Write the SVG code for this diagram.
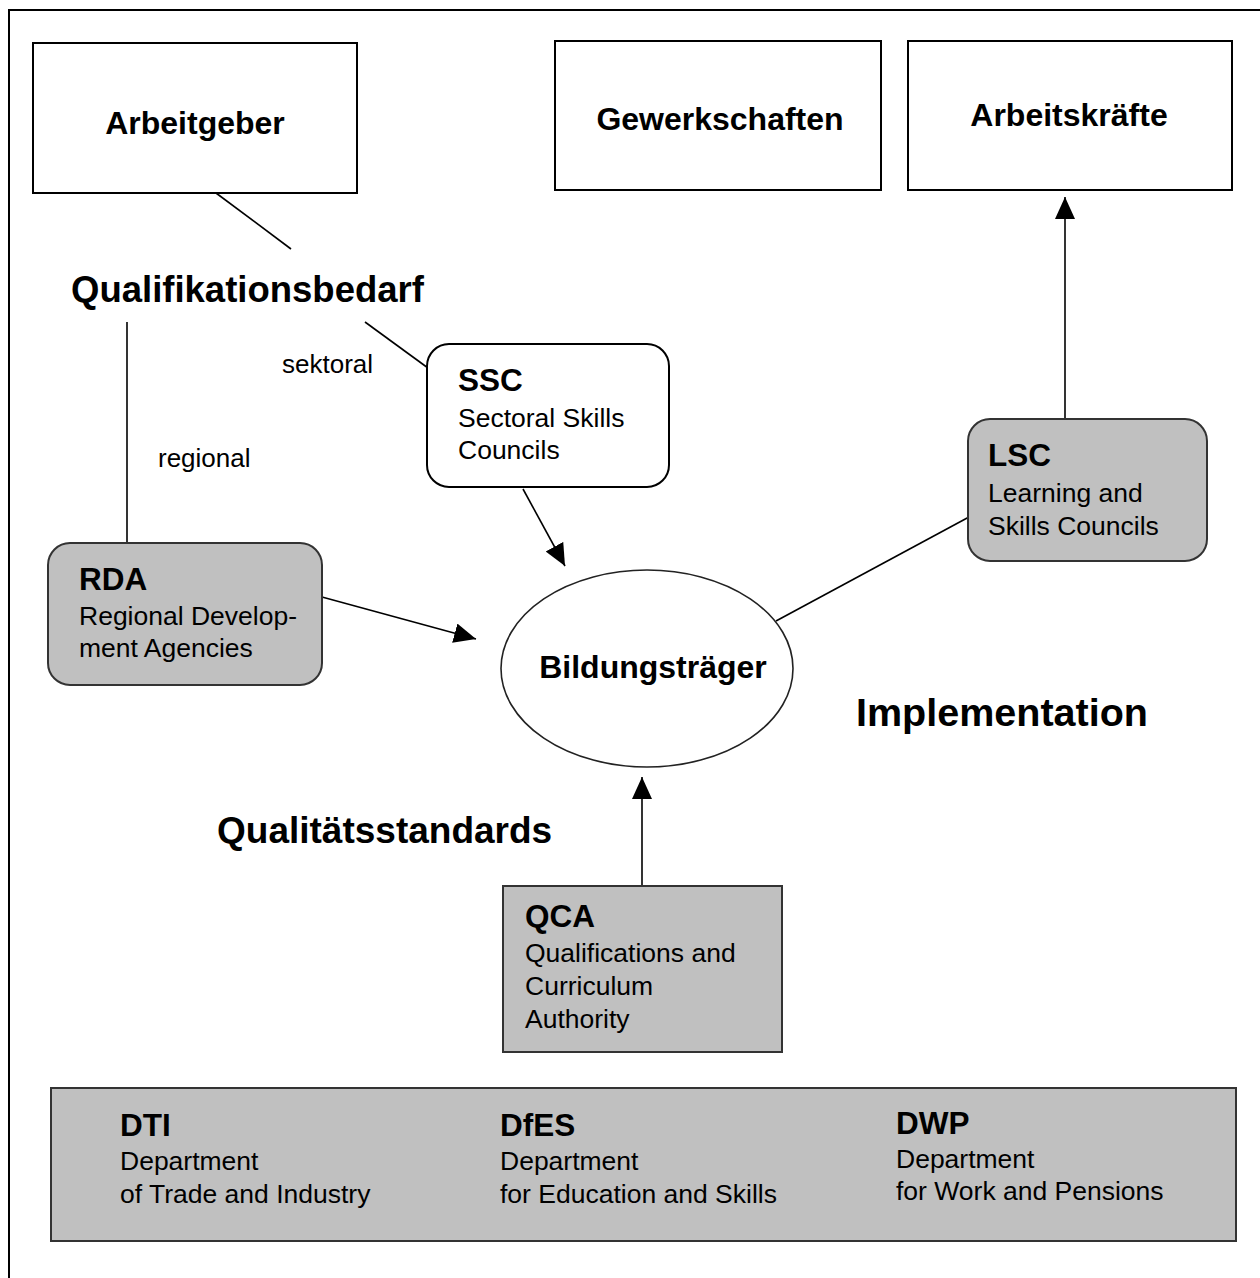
<svg xmlns="http://www.w3.org/2000/svg" width="1260" height="1278" viewBox="0 0 1260 1278">
<defs>
<marker id="arr" markerUnits="userSpaceOnUse" markerWidth="24" markerHeight="22" refX="22" refY="10" orient="auto">
<path d="M0,0 L22,10 L0,20 z" fill="#000"/>
</marker>
<style>
.box{fill:#fff;stroke:#000;stroke-width:2}
.grey{fill:#c0c0c0;stroke:#333;stroke-width:2}
.t{font-family:"Liberation Sans",Arial,sans-serif;fill:#000}
.big{font-size:32px;font-weight:bold;text-anchor:middle}
.hd{font-size:31.5px;font-weight:bold}
.bd{font-size:26.5px}
.lbl{font-size:26px}
.cap{font-weight:bold}
.ln{stroke:#000;stroke-width:1.6;fill:none}
</style>
</defs>
<rect x="9" y="10" width="1300" height="1300" fill="#fff" stroke="#000" stroke-width="2"/>

<g id="connectors">
<line class="ln" x1="216" y1="193" x2="291" y2="249"/>
<line class="ln" x1="127" y1="322" x2="127" y2="544"/>
<line class="ln" x1="365" y1="322" x2="428" y2="368"/>
<line class="ln" x1="523" y1="489" x2="565" y2="566" marker-end="url(#arr)"/>
<line class="ln" x1="322" y1="597" x2="476" y2="639" marker-end="url(#arr)"/>
<line class="ln" x1="776" y1="621" x2="969" y2="517"/>
<line class="ln" x1="1065" y1="419" x2="1065" y2="197" marker-end="url(#arr)"/>
<line class="ln" x1="642" y1="886" x2="642" y2="777" marker-end="url(#arr)"/>
</g>

<g id="arbeitgeber">
<rect class="box" x="33" y="43" width="324" height="150"/>
<text class="t big" x="195" y="134">Arbeitgeber</text>
</g>
<g id="gewerkschaften">
<rect class="box" x="555" y="41" width="326" height="149"/>
<text class="t big" x="720" y="130">Gewerkschaften</text>
</g>
<g id="arbeitskraefte">
<rect class="box" x="908" y="41" width="324" height="149"/>
<text class="t big" x="1069" y="126">Arbeitskräfte</text>
</g>

<g id="qualifikationsbedarf">
<text class="t cap" x="71" y="302" font-size="36.5">Qualifikationsbedarf</text>
</g>
<g id="label-sektoral"><text class="t lbl" x="282" y="373">sektoral</text></g>
<g id="label-regional"><text class="t lbl" x="158" y="467">regional</text></g>

<g id="ssc">
<rect class="box" x="427" y="344" width="242" height="143" rx="22"/>
<text class="t hd" x="458" y="391">SSC</text>
<text class="t bd" x="458" y="427">Sectoral Skills</text>
<text class="t bd" x="458" y="459">Councils</text>
</g>

<g id="lsc">
<rect class="grey" x="968" y="419" width="239" height="142" rx="22"/>
<text class="t hd" x="988" y="466">LSC</text>
<text class="t bd" x="988" y="502">Learning and</text>
<text class="t bd" x="988" y="535">Skills Councils</text>
</g>

<g id="rda">
<rect class="grey" x="48" y="543" width="274" height="142" rx="22"/>
<text class="t hd" x="79" y="590">RDA</text>
<text class="t bd" x="79" y="625">Regional Develop-</text>
<text class="t bd" x="79" y="657">ment Agencies</text>
</g>

<g id="bildungstraeger">
<ellipse cx="647" cy="668.5" rx="146" ry="98.5" fill="#fff" stroke="#222" stroke-width="1.6"/>
<text class="t cap" x="653" y="678" font-size="32" text-anchor="middle">Bildungsträger</text>
</g>

<g id="implementation">
<text class="t cap" x="856" y="726" font-size="39.5">Implementation</text>
</g>
<g id="qualitaetsstandards">
<text class="t cap" x="217" y="843" font-size="37">Qualitätsstandards</text>
</g>

<g id="qca">
<rect class="grey" x="503" y="886" width="279" height="166"/>
<text class="t hd" x="525" y="927">QCA</text>
<text class="t bd" x="525" y="962">Qualifications and</text>
<text class="t bd" x="525" y="995">Curriculum</text>
<text class="t bd" x="525" y="1028">Authority</text>
</g>

<g id="departments">
<rect class="grey" x="51" y="1088" width="1185" height="153"/>
<text class="t hd" x="120" y="1136">DTI</text>
<text class="t bd" x="120" y="1170">Department</text>
<text class="t bd" x="120" y="1203">of Trade and Industry</text>
<text class="t hd" x="500" y="1136">DfES</text>
<text class="t bd" x="500" y="1170">Department</text>
<text class="t bd" x="500" y="1203">for Education and Skills</text>
<text class="t hd" x="896" y="1134">DWP</text>
<text class="t bd" x="896" y="1168">Department</text>
<text class="t bd" x="896" y="1200">for Work and Pensions</text>
</g>
</svg>
